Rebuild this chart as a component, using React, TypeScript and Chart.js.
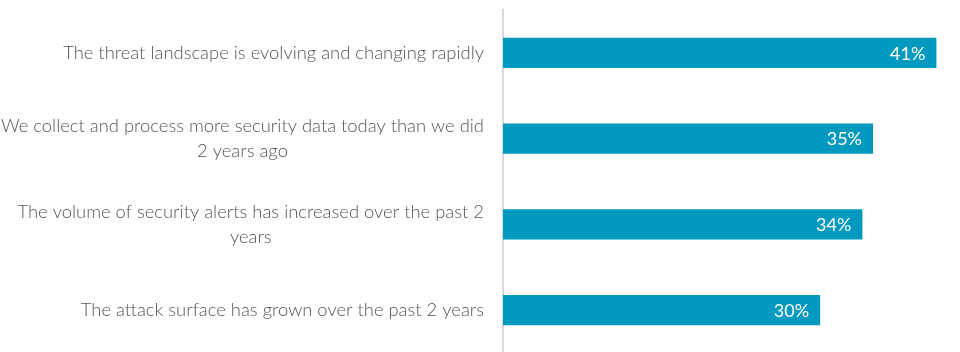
import React, { useEffect, useRef } from "react";
import { Chart, registerables } from "chart.js";

Chart.register(...registerables);

const categories: string[][] = [
  ["The threat landscape is evolving and changing rapidly"],
  ["We collect and process more security data today than we did", "2 years ago"],
  ["The volume of security alerts has increased over the past 2", "years"],
  ["The attack surface has grown over the past 2 years"],
];
const values: number[] = [41, 35, 34, 30];

const FONT = "Lato, 'Open Sans', sans-serif";

const labelPlugin = {
  id: "customLabels",
  afterDraw(chart: any) {
    const { ctx } = chart;
    const yScale = chart.scales.y;
    const meta = chart.getDatasetMeta(0);
    ctx.save();
    // category labels
    ctx.font = `300 18.4px ${FONT}`;
    ctx.fillStyle = "#555555";
    ctx.textBaseline = "middle";
    ctx.textAlign = "center";
    const rightEdge = 484;
    const lineH = 25;
    categories.forEach((lines, i) => {
      const yc = yScale.getPixelForValue(i);
      const w = Math.max(...lines.map((l) => ctx.measureText(l).width));
      const cx = rightEdge - w / 2;
      const y0 = yc - ((lines.length - 1) * lineH) / 2;
      lines.forEach((l, j) => ctx.fillText(l, cx, y0 + j * lineH));
    });
    // value labels
    ctx.font = `18px ${FONT}`;
    ctx.fillStyle = "#ffffff";
    ctx.textAlign = "right";
    meta.data.forEach((bar: any, i: number) => {
      ctx.fillText(values[i] + "%", bar.x - 11, bar.y + 1);
    });
    ctx.restore();
  },
};

export default function App() {
  const ref = useRef<HTMLCanvasElement>(null);
  useEffect(() => {
    if (!ref.current) return;
    const chart = new Chart(ref.current, {
      type: "bar",
      data: {
        labels: categories.map((c) => c.join(" ")),
        datasets: [
          {
            data: values,
            backgroundColor: "#009AC0",
            borderWidth: 0,
            categoryPercentage: 0.35,
            barPercentage: 1,
          },
        ],
      },
      options: {
        indexAxis: "y",
        animation: false,
        responsive: false,
        maintainAspectRatio: false,
        layout: { padding: { top: 10, right: 13, bottom: 0, left: 0 } },
        plugins: { legend: { display: false }, tooltip: { enabled: false } },
        scales: {
          x: { display: false, min: 0, max: 42 },
          y: {
            ticks: { display: false },
            grid: { display: false },
            border: { display: true, color: "#d9d9d9", width: 2 },
            afterFit(scale: any) {
              scale.width = 503;
            },
          },
        },
      },
      plugins: [labelPlugin],
    });
    return () => chart.destroy();
  }, []);
  return (
    <div style={{ position: "absolute", left: 0, top: 0, width: 960, height: 353, background: "#fff" }}>
      <canvas ref={ref} width={960} height={353} style={{ width: 960, height: 353 }} />
    </div>
  );
}
